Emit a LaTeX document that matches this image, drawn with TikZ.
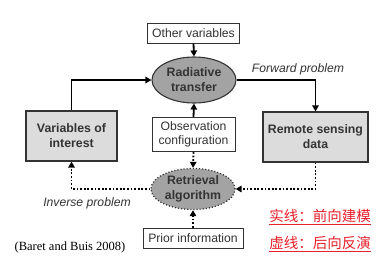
\documentclass[tikz,border=0pt]{standalone}
\usepackage{fontspec}
\setmainfont{Liberation Sans}
\newfontfamily\serifrm{Liberation Serif}
\newfontfamily\cjk{Noto Sans CJK SC}
\usetikzlibrary{shapes.geometric,arrows.meta}
\definecolor{boxfill}{HTML}{DCDCDC}
\definecolor{ellfill}{HTML}{A3A3A3}
\definecolor{edge}{HTML}{333333}
\definecolor{txt}{HTML}{333333}
\definecolor{cnred}{HTML}{E8202A}
\tikzset{
  whitebox/.style={draw=edge, line width=0.9pt, fill=white, text=txt, font=\fontsize{12.2}{14}\selectfont, align=center, inner sep=0pt},
  graybox/.style={draw=edge, line width=1.2pt, fill=boxfill, text=txt, font=\bfseries\fontsize{12.3}{15}\selectfont, align=center, inner sep=0pt},
  grayell/.style={ellipse, draw=edge, line width=1.1pt, fill=ellfill, text=txt, font=\bfseries\fontsize{12.3}{15}\selectfont, align=center, inner sep=0pt},
  solidarrow/.style={draw=black, line width=1.8pt, -{Triangle[length=6pt,width=6.5pt]}},
  dotarrow/.style={draw=black, line width=1.8pt, dash pattern=on 1.8pt off 1.8pt, -{Triangle[length=6pt,width=6.5pt]}},
  italiclabel/.style={text=txt, font=\itshape\fontsize{12.2}{14}\selectfont},
  cnlabel/.style={text=cnred, font=\cjk\fontsize{14.5}{16}\selectfont},
}
\begin{document}
\begin{tikzpicture}[x=1pt,y=-1pt]
\useasboundingbox (0,0) rectangle (391,263);
\node[whitebox, minimum width=92pt, minimum height=20pt] (other) at (193.5,33) {Other variables};
\node[grayell, minimum width=84pt, minimum height=46pt] (rt) at (194,80) {Radiative\\transfer};
\node[graybox, minimum width=91pt, minimum height=50pt] (voi) at (71.5,136) {Variables of\\interest};
\node[graybox, minimum width=105pt, minimum height=50pt] (rsd) at (315.5,137) {Remote sensing\\data};
\node[whitebox, minimum width=83pt, minimum height=34pt] (obs) at (193.5,134.5) {Observation\\configuration};
\node[grayell, draw=edge, dotted, line width=1.3pt, minimum width=84pt, minimum height=41pt] (ret) at (193,189) {Retrieval\\algorithm};
\node[whitebox, minimum width=100pt, minimum height=20pt] (prior) at (193,238) {Prior information};

\draw[solidarrow] (other.south) -- (rt.north);
\draw[solidarrow] (obs.north) -- (rt.south);
\draw[solidarrow] (voi.north) |- (rt.west);
\draw[solidarrow] (rt.east) -| (rsd.north);
\draw[dotarrow] (rsd.south) |- (ret.east);
\draw[dotarrow] (ret.west) -| (voi.south);
\draw[dotarrow] (obs.south) -- (ret.north);
\draw[dotarrow] (prior.north) -- (ret.south);

\node[italiclabel] (fwd) at (298,69) {Forward problem};
\node[italiclabel] (inv) at (87,203) {Inverse problem};
\node[font=\serifrm\fontsize{12.5}{14}\selectfont, text=black] (cite) at (70,247) {(Baret and Buis 2008)};
\node[cnlabel] (cn1) at (320,217) {\underline{实线：前向建模}};
\node[cnlabel] (cn2) at (320,244) {\underline{虚线：后向反演}};
\end{tikzpicture}
\end{document}
